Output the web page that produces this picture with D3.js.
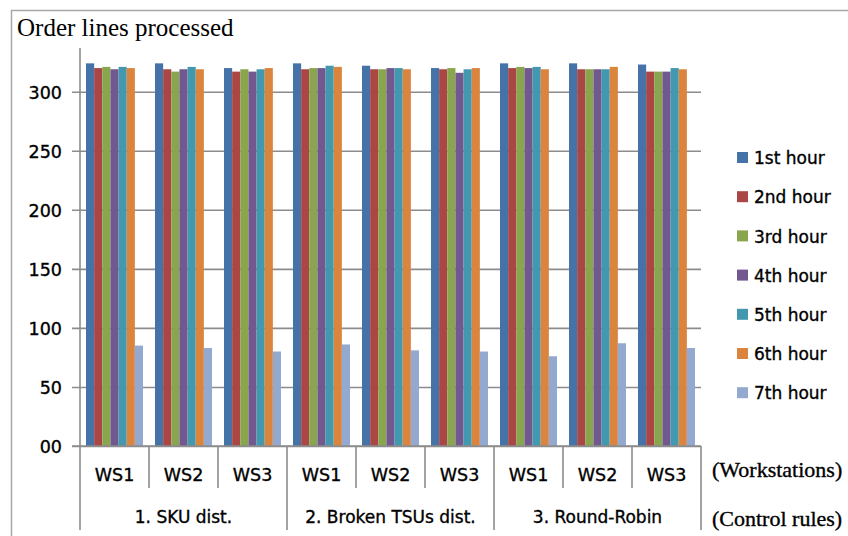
<!DOCTYPE html>
<html>
<head>
<meta charset="utf-8">
<script src="https://cdn.jsdelivr.net/npm/d3@7"></script>
<style>
  html, body { margin: 0; padding: 0; background: #fff; }
  svg { display: block; }
  .lbl { stroke: #000; stroke-width: 0.35px; fill: #000; }
</style>
</head>
<body>
<svg id="chart" width="848" height="536"></svg>
<script>
// Workstation groups along the x axis, nested under the control rules
const workstations = ["WS1", "WS2", "WS3", "WS1", "WS2", "WS3", "WS1", "WS2", "WS3"];
const controlRules = ["1. SKU dist.", "2. Broken TSUs dist.", "3. Round-Robin"];

// Order lines processed per hour, one value per workstation group
const hour1 = [324, 324, 320, 324, 322, 320, 324, 324, 323];
const hour2 = [320, 319, 317, 319, 319, 319, 320, 319, 317];
const hour3 = [321, 317, 319, 320, 319, 320, 321, 319, 317];
const hour4 = [319, 319, 317, 320, 320, 316, 320, 319, 317];
const hour5 = [321, 321, 319, 322, 320, 319, 321, 319, 320];
const hour6 = [320, 319, 320, 321, 319, 320, 319, 321, 319];
const hour7 = [85, 83, 80, 86, 81, 80, 76, 87, 83];

const seriesNames = ["1st hour", "2nd hour", "3rd hour", "4th hour", "5th hour", "6th hour", "7th hour"];
const seriesValues = [hour1, hour2, hour3, hour4, hour5, hour6, hour7];
const seriesColors = ["#4572A7", "#AA4643", "#89A54E", "#71588F", "#4198AF", "#DB843D", "#93A9CF"];

const yTickValues = [0, 50, 100, 150, 200, 250, 300];
const yTickLabels = ["00", "50", "100", "150", "200", "250", "300"];

const svg = d3.select("#chart");
const sans = "'DejaVu Sans', sans-serif";
const serif = "'Liberation Serif', 'Times New Roman', serif";

const plotLeft = 80, plotRight = 701, plotTop = 48, plotBase = 446;

// Outer chart frame
svg.append("rect")
  .attr("x", 11.5).attr("y", 10.5)
  .attr("width", 860).attr("height", 540)
  .attr("fill", "none").attr("stroke", "#a8a8a8").attr("stroke-width", 1.5);

// Title
svg.append("text")
  .attr("x", 17).attr("y", 36)
  .attr("font-family", serif).attr("font-size", 25)
  .attr("fill", "#000")
  .text("Order lines processed");

const x0 = d3.scaleBand().domain(d3.range(workstations.length)).range([plotLeft, plotRight]);
const bw = x0.bandwidth();
const x1 = d3.scaleBand().domain(d3.range(seriesNames.length)).range([bw * 0.087, bw * 0.913]);
const y = d3.scaleLinear().domain([0, 337]).range([plotBase, plotTop]);

// Gridlines with outward ticks
const yAxis = d3.axisLeft(y)
  .tickValues(yTickValues)
  .tickSize(-(plotRight - plotLeft))
  .tickSizeOuter(0)
  .tickFormat((d, i) => yTickLabels[i]);

const gy = svg.append("g").attr("transform", `translate(${plotLeft},0)`).call(yAxis);
gy.select(".domain").remove();
gy.selectAll(".tick line")
  .attr("x1", -8)
  .attr("stroke", "#8c8c8c").attr("stroke-width", 1.6);
gy.selectAll(".tick text")
  .attr("class", "lbl")
  .attr("x", -18).attr("dy", "0.36em")
  .attr("font-family", sans).attr("font-size", 17.5);

// Bars
const groups = svg.append("g").selectAll("g")
  .data(workstations.map((w, i) => i))
  .join("g")
  .attr("transform", i => `translate(${x0(i)},0)`);

groups.selectAll("rect")
  .data(i => seriesValues.map((vals, s) => ({ s, v: vals[i] })))
  .join("rect")
  .attr("x", d => x1(d.s))
  .attr("width", x1.bandwidth())
  .attr("y", d => y(d.v))
  .attr("height", d => y(0) - y(d.v))
  .attr("fill", d => seriesColors[d.s]);

// Value axis line and category axis frame
const lineColor = "#8c8c8c";
svg.append("line")
  .attr("x1", plotLeft).attr("x2", plotLeft).attr("y1", plotTop).attr("y2", 530)
  .attr("stroke", lineColor).attr("stroke-width", 1.6);
svg.append("line")
  .attr("x1", plotLeft - 8).attr("x2", plotRight).attr("y1", plotBase).attr("y2", plotBase)
  .attr("stroke", lineColor).attr("stroke-width", 1.6);

// Separators between workstations (short) and between control rules (long)
d3.range(1, workstations.length + 1).forEach(k => {
  const xx = k === workstations.length ? plotRight : x0(k);
  const long = k % 3 === 0;
  svg.append("line")
    .attr("x1", xx).attr("x2", xx)
    .attr("y1", plotBase).attr("y2", long ? 530 : 488)
    .attr("stroke", lineColor).attr("stroke-width", 1.6);
});

// Workstation labels
svg.append("g").selectAll("text")
  .data(workstations)
  .join("text")
  .attr("class", "lbl")
  .attr("x", (d, i) => x0(i) + bw / 2)
  .attr("y", 480.5)
  .attr("text-anchor", "middle")
  .attr("font-family", sans).attr("font-size", 17.5)
  .text(d => d);

// Control rule labels
svg.append("g").selectAll("text")
  .data(controlRules)
  .join("text")
  .attr("class", "lbl")
  .attr("x", (d, i) => x0(i * 3) + bw * 1.5)
  .attr("y", 523)
  .attr("text-anchor", "middle")
  .attr("font-family", sans).attr("font-size", 17)
  .text(d => d);

// Level captions
svg.append("text")
  .attr("class", "lbl")
  .attr("x", 712).attr("y", 477)
  .attr("font-family", serif).attr("font-size", 22)
  .text("(Workstations)");
svg.append("text")
  .attr("class", "lbl")
  .attr("x", 712).attr("y", 526)
  .attr("font-family", serif).attr("font-size", 22)
  .text("(Control rules)");

// Legend
const legend = svg.append("g").selectAll("g")
  .data(seriesNames)
  .join("g")
  .attr("transform", (d, i) => `translate(737,${158 + i * 39.2})`);
legend.append("rect")
  .attr("x", 0).attr("y", -6)
  .attr("width", 11).attr("height", 11)
  .attr("fill", (d, i) => seriesColors[i]);
legend.append("text")
  .attr("class", "lbl")
  .attr("x", 17).attr("y", 0).attr("dy", "0.36em")
  .attr("font-family", sans).attr("font-size", 17)
  .text(d => d);
</script>
</body>
</html>
